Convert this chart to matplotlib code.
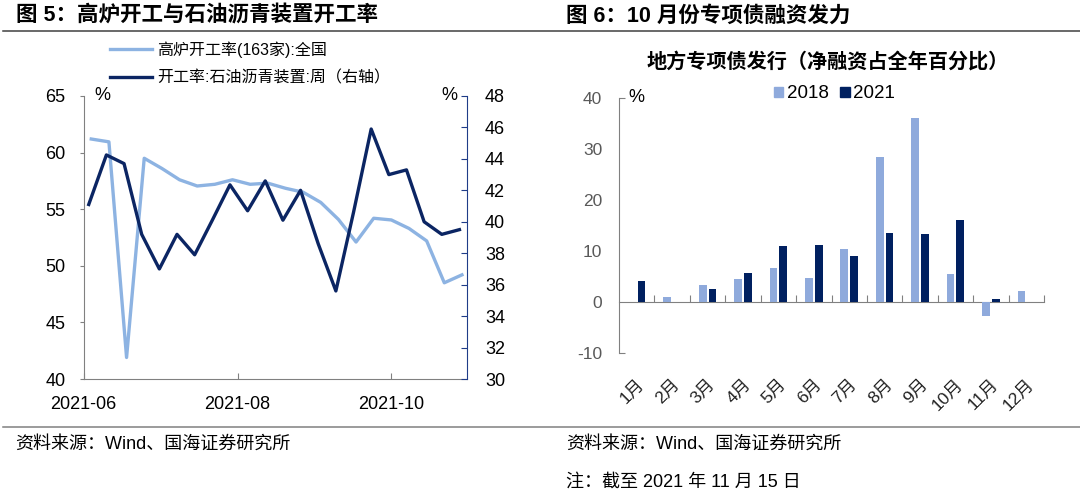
import numpy as np
import pandas as pd
import matplotlib
matplotlib.use("Agg")
import matplotlib.pyplot as plt
import matplotlib.dates as mdates
from matplotlib.lines import Line2D
from matplotlib.patches import Patch

plt.rcParams['font.family'] = ['Liberation Sans', 'Noto Sans CJK SC']
plt.rcParams['axes.unicode_minus'] = False

# ---- 图5 data (weekly) ----
furnace_dates = pd.date_range("2021-06-04", periods=22, freq="7D")
furnace_rate = [61.2, 60.95, 41.9, 59.5, 58.6, 57.6, 57.05, 57.2, 57.6, 57.2, 57.3,
                56.85, 56.5, 55.6, 54.1, 52.1, 54.2, 54.05, 53.3, 52.2, 48.5, 49.2]

asphalt_dates = pd.date_range("2021-06-03", periods=22, freq="7D")
asphalt_rate = [41.1, 44.25, 43.7, 39.2, 37.0, 39.2, 37.9, 40.1, 42.35, 40.7, 42.6,
                40.1, 42.0, 38.6, 35.6, 40.6, 45.9, 43.0, 43.3, 40.0, 39.2, 39.5]

# ---- 图6 data ----
months = ["1月", "2月", "3月", "4月", "5月", "6月", "7月", "8月", "9月", "10月", "11月", "12月"]
bond_2018 = [0, 1.0, 3.25, 4.55, 6.65, 4.7, 10.3, 28.5, 36.15, 5.4, -2.8, 2.1]
bond_2021 = [4.05, 0, 2.55, 5.6, 10.9, 11.1, 9.05, 13.55, 13.25, 16.0, 0.5, np.nan]

LIGHT = "#8DB3E2"
NAVY = "#0B2563"
BAR_LIGHT = "#8FAADC"
BAR_DARK = "#002060"
GRAY = "#808080"

fig = plt.figure(figsize=(10.8, 4.93), dpi=100)

# titles and separator lines
fig.text(15.5 / 1080, 1 - 16 / 493, "图 5：高炉开工与石油沥青装置开工率",
         fontsize=15.5, fontweight="bold", va="center", ha="left")
fig.text(566 / 1080, 1 - 16 / 493, "图 6：10 月份专项债融资发力",
         fontsize=15.5, fontweight="bold", va="center", ha="left")
fig.add_artist(Line2D([3 / 1080, 1], [1 - 31 / 493] * 2, color="#404040", lw=1.1))
fig.add_artist(Line2D([3 / 1080, 1], [1 - 427 / 493] * 2, color="#808080", lw=1.1))
fig.text(15.5 / 1080, 1 - 444 / 493, "资料来源：Wind、国海证券研究所",
         fontsize=13, va="center", ha="left")
fig.text(566 / 1080, 1 - 444 / 493, "资料来源：Wind、国海证券研究所",
         fontsize=13, va="center", ha="left")
fig.text(566 / 1080, 1 - 482 / 493, "注：截至 2021 年 11 月 15 日",
         fontsize=13, va="center", ha="left")

# ---------------- left chart ----------------
ax1 = fig.add_axes([83.7 / 1080, 1 - 379 / 493, (467 - 83.7) / 1080, (379 - 96) / 493])
ax1.plot(furnace_dates, furnace_rate, color=LIGHT, lw=2.4,
         label="高炉开工率(163家):全国")
ax1.set_ylim(40, 65)
ax1.set_yticks(range(40, 66, 5))
ax1.set_xlim(pd.Timestamp("2021-06-01"), pd.Timestamp("2021-10-31"))
ax1.xaxis.set_major_locator(mdates.MonthLocator(bymonth=[6, 8, 10]))
ax1.xaxis.set_major_formatter(mdates.DateFormatter("%Y-%m"))
for s in ["top", "right"]:
    ax1.spines[s].set_visible(False)
for s in ["left", "bottom"]:
    ax1.spines[s].set_color(GRAY)
ax1.tick_params(axis="y", direction="out", length=3, color=GRAY, labelsize=13, pad=10)
ax1.tick_params(axis="x", direction="in", length=4, color=GRAY, labelsize=13, pad=12)
ax1.text(0.05, 1.0, "%", transform=ax1.transAxes, fontsize=13, ha="center", va="center")

ax2 = ax1.twinx()
ax2.plot(asphalt_dates, asphalt_rate, color=NAVY, lw=2.4,
         label="开工率:石油沥青装置:周（右轴）")
ax2.set_ylim(30, 48)
ax2.set_yticks(range(30, 49, 2))
for s in ["top", "left", "bottom"]:
    ax2.spines[s].set_visible(False)
ax2.spines["right"].set_color("#1F3C88")
ax2.tick_params(axis="y", direction="in", length=4, color="#1F3C88", labelsize=13, pad=13)
ax2.text(0.955, 1.0, "%", transform=ax2.transAxes, fontsize=13, ha="center", va="center")

h1, l1 = ax1.get_legend_handles_labels()
h2, l2 = ax2.get_legend_handles_labels()
fig.legend(h1 + h2, l1 + l2, loc="upper left", bbox_to_anchor=(110 / 1080, 1 - 41 / 493),
           frameon=False, fontsize=11.5, handlelength=2.6, handletextpad=0.35,
           labelspacing=0.8, borderpad=0, borderaxespad=0)

# ---------------- right chart ----------------
ax3 = fig.add_axes([619 / 1080, 1 - 353 / 493, (1044 - 619) / 1080, (353 - 98) / 493])
x = np.arange(len(months))
ax3.bar(x - 0.138, bond_2018, width=0.22, color=BAR_LIGHT, label="2018")
ax3.bar(x + 0.138, bond_2021, width=0.22, color=BAR_DARK, label="2021")
ax3.set_xlim(-0.5, 11.5)
ax3.set_ylim(-10, 40)
ax3.set_yticks(range(-10, 41, 10))
ax3.set_xticks(x)
ax3.set_xticklabels(months)
for s in ["top", "right", "bottom"]:
    ax3.spines[s].set_visible(False)
ax3.spines["left"].set_color(GRAY)
ax3.tick_params(axis="y", direction="in", length=4, color=GRAY, labelsize=12.5,
                labelcolor="#595959", pad=12)
for t in ax3.yaxis.get_major_ticks()[1:-1]:
    t.tick1line.set_visible(False)
ax3.tick_params(axis="x", length=0, labelsize=12.5, pad=17, labelcolor="#222222")
plt.setp(ax3.get_xticklabels(), rotation=45, ha="right", rotation_mode="anchor")

# zero line with category boundary ticks
zero_axis = ax3.secondary_xaxis(0.2)
zero_axis.set_xticks(np.arange(0.5, 12, 1))
zero_axis.set_xticklabels([])
zero_axis.tick_params(axis="x", direction="in", length=5, color=GRAY)
zero_axis.spines["bottom"].set_color(GRAY)

ax3.text(0.041, 1.0, "%", transform=ax3.transAxes, fontsize=13, ha="center", va="center")

fig.text(828 / 1080, 1 - 62 / 493, "地方专项债发行（净融资占全年百分比）",
         fontsize=14.5, fontweight="bold", ha="center", va="center")
fig.legend(handles=[Patch(color=BAR_LIGHT, label="2018"), Patch(color=BAR_DARK, label="2021")],
           loc="center left", bbox_to_anchor=(774 / 1080, 1 - 94 / 493), ncol=2,
           frameon=False, fontsize=13.5, handlelength=0.5, handleheight=0.5,
           handletextpad=0.2, columnspacing=0.6, borderpad=0, borderaxespad=0)

fig.savefig("out.png", dpi=100)
